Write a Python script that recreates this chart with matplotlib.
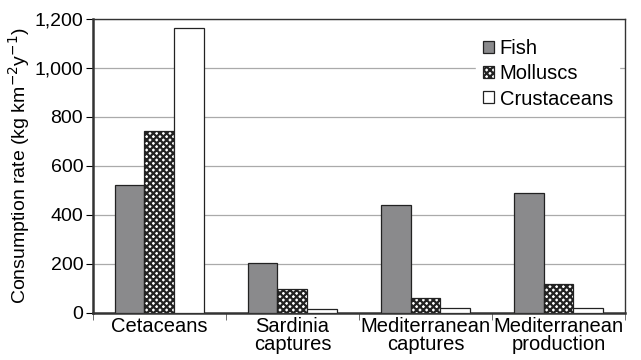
import matplotlib
matplotlib.use("Agg")
import matplotlib.pyplot as plt
import numpy as np
from matplotlib.ticker import FuncFormatter, MultipleLocator

categories = ["Cetaceans", "Sardinia\ncaptures", "Mediterranean\ncaptures", "Mediterranean\nproduction"]
fish = [523, 202, 439, 488]
molluscs = [743, 97, 60, 118]
crustaceans = [1160, 16, 19, 19]
series_names = ["Fish", "Molluscs", "Crustaceans"]

plt.rcParams['font.family'] = ['Liberation Sans', 'DejaVu Sans']
plt.rcParams['hatch.linewidth'] = 1.6

fig = plt.figure(figsize=(6.41, 3.6), dpi=100)
ax = fig.add_axes([0.145, 0.1306, 0.830, 0.818])

x = np.arange(len(categories))
w = 0.225
ax.bar(x - w, fish, w, color='#8a8a8c', edgecolor='#222222', linewidth=0.9, label=series_names[0], zorder=3)
ax.bar(x, molluscs, w, color='white', edgecolor='#222222', hatch='xxxxx', linewidth=0.9, label=series_names[1], zorder=3)
ax.bar(x + w, crustaceans, w, color='white', edgecolor='#222222', linewidth=0.9, label=series_names[2], zorder=3)

ax.set_xlim(-0.5, len(categories) - 0.5)
ax.set_ylim(0, 1200)
ax.yaxis.set_major_locator(MultipleLocator(200))
ax.yaxis.set_major_formatter(FuncFormatter(lambda v, p: f"{int(v):,}"))
ax.grid(axis='y', color='#aaaaaa', linewidth=0.9, zorder=0)
ax.set_xticks(x)
ax.set_xticklabels(categories, fontsize=14.5, linespacing=0.9)
ax.set_xticks(np.arange(-0.5, len(categories), 1), minor=True)
ax.tick_params(axis='x', which='major', length=0, pad=3)
ax.tick_params(axis='x', which='minor', length=5, direction='out', color='#555555')
ax.tick_params(axis='y', length=5, direction='out', labelsize=14, pad=2)
for s in ax.spines.values():
    s.set_color('#333333')
    s.set_linewidth(1.0)
ax.spines['left'].set_linewidth(1.8)
ax.spines['bottom'].set_linewidth(1.8)

ax.set_ylabel("Consumption rate (kg km$^{-2}$y$^{-1}$)", fontsize=14, labelpad=2)

leg = ax.legend(loc='upper right', bbox_to_anchor=(1.0, 0.97), frameon=True, fontsize=14.5,
                handlelength=0.55, handleheight=0.55, handletextpad=0.3, labelspacing=0.3,
                borderaxespad=0.3, borderpad=0.3)
leg.get_frame().set_edgecolor('white')
leg.get_frame().set_facecolor('white')
leg.get_frame().set_alpha(1)

fig.savefig("out.png", dpi=100)
